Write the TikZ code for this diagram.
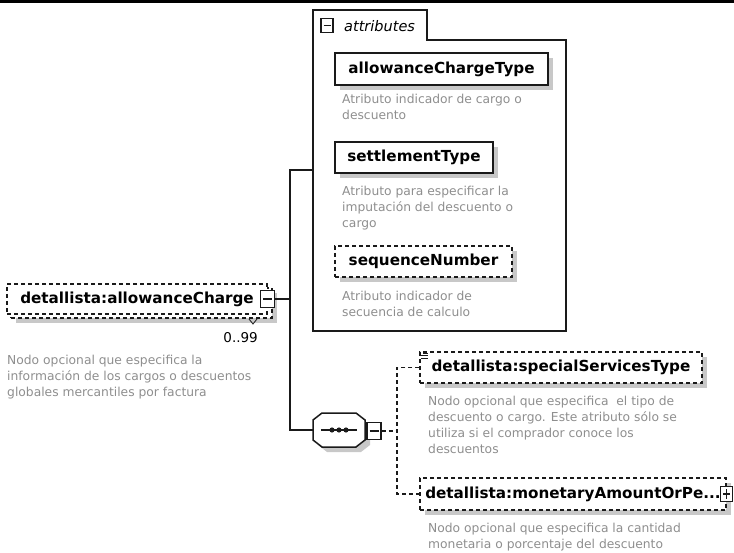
\documentclass[tikz,border=0pt]{standalone}
\usepackage{fontspec}
\setmainfont{DejaVu Sans}
\usepackage{tikz}
\usetikzlibrary{
  positioning, shadows, calc
}
\definecolor{lineK}{HTML}{1A1A1A}
\definecolor{shadeG}{HTML}{C8C8C8}
\definecolor{noteG}{HTML}{8E8E8E}
\newcommand\namefont{\fontsize{15.2}{18}\selectfont\bfseries}
\newcommand\notefont{\fontsize{12.3}{16}\selectfont}
\newcommand\grpfont{\fontsize{14.5}{16}\selectfont\itshape}
\tikzset{
  elembase/.style={draw=lineK, line width=1.5pt, fill=white, inner sep=0pt, font=\namefont},
  shade/.style={drop shadow={shadow xshift=5pt, shadow yshift=-5pt, fill=shadeG, opacity=1}},
  elembox/.style={elembase, shade},
  optbox/.style={elembase, shade, dash pattern=on 4pt off 3pt},
  optplain/.style={elembase, dash pattern=on 4pt off 3pt},
  notetext/.style={font=\notefont, text=noteG, align=left, anchor=north west, inner sep=0pt},
  togglebox/.style={draw=lineK, line width=1.2pt, fill=white, minimum width=14pt, minimum height=17pt, inner sep=0pt},
  minus/.style={path picture={\draw[lineK, line width=1.2pt] ($(path picture bounding box.west)+(2.5pt,0)$) -- ($(path picture bounding box.east)+(-2.5pt,0)$);}},
  plus/.style={path picture={\draw[lineK, line width=1.2pt] ($(path picture bounding box.west)+(2.5pt,0)$) -- ($(path picture bounding box.east)+(-2.5pt,0)$) ($(path picture bounding box.north)+(0,-2.5pt)$) -- ($(path picture bounding box.south)+(0,2.5pt)$);}},
  wire/.style={draw=lineK, line width=1.4pt},
  optwire/.style={wire, dash pattern=on 4pt off 3pt}
}
\begin{document}
\begin{tikzpicture}[x=1pt,y=-1pt]
\useasboundingbox (0,0) rectangle (734,553);
\fill[black] (0,0) rectangle (734,3);
\draw[lineK, line width=1.3pt] (313,10) -- (427,10) -- (427,40) -- (566,40) -- (566,331) -- (313,331) -- cycle;
\node[togglebox, minus, minimum width=12pt, minimum height=14pt] (attrToggle) at (327,25.5) {};
\node[font=\grpfont, anchor=west, inner sep=0pt] (attrLabel) at (344,26) {attributes};
\coordinate (attrIn) at (313,170);
\node[elembox, minimum width=213pt, minimum height=32pt] (allowType) at (441.5,69) {allowanceChargeType};
\node[notetext] (allowNote) at (342,94) {Atributo indicador de cargo o\\descuento};
\node[elembox, minimum width=158pt, minimum height=31pt] (settleType) at (414,157.5) {settlementType};
\node[notetext] (settleNote) at (342,186) {Atributo para especificar la\\imputación del descuento o\\cargo};
\node[optbox, minimum width=177pt, minimum height=31pt] (seqNum) at (423.5,261.5) {sequenceNumber};
\node[notetext] (seqNote) at (342,291) {Atributo indicador de\\secuencia de calculo};
\node[optbox, minimum width=261pt, minimum height=30pt] (acBack) at (141.5,303) {};
\node[optplain, minimum width=260pt, minimum height=30pt] (acFront) at (137,299) {detallista:allowanceCharge};
\node[togglebox, minus] (acToggle) at (acFront.east) {};
\draw[lineK, line width=0.8pt] (249,319) -- (253,324) -- (257,319);
\node[font=\fontsize{13.5}{16}\selectfont, anchor=east, inner sep=0pt] (acCard) at (258,338) {0..99};
\node[notetext] (acNote) at (7,355) {Nodo opcional que especifica la\\información de los cargos o descuentos\\globales mercantiles por factura};
\node[minimum width=52pt, minimum height=33pt, inner sep=0pt] (seqComp) at (339,430) {};
\draw[lineK, line width=1.5pt, fill=white, shade] (322,413) -- (356,413) -- (365,420) -- (365,440) -- (356,447) -- (322,447) -- (313,440) -- (313,420) -- cycle;
\coordinate (acFork) at (290,299);
\draw[wire] (acToggle) -- (acFork);
\draw[wire] (attrIn) -- (attrIn -| acFork) -- (seqComp.west -| acFork) -- (seqComp.west);
\draw[lineK, line width=1.4pt] ([xshift=8pt]seqComp.west) -- ([xshift=-8pt]seqComp.east);
\foreach \dx in {-7,0,7}
  \fill[lineK] (seqComp.center) ++(\dx,0) circle (2.6pt);
\node[togglebox, minus] (seqToggle) at (374,431) {};
\coordinate (seqFork) at (397,431);
\node[optbox, minimum width=282pt, minimum height=31pt] (specType) at (561,367.5) {detallista:specialServicesType};
\draw[lineK, line width=0.8pt] (423,353) -- (428,353) (421,355.5) -- (428,355.5) (421,358) -- (428,358);
\node[notetext] (specNote) at (428,396) {Nodo opcional que especifica\ \ el tipo de\\descuento o cargo. Este atributo sólo se\\utiliza si el comprador conoce los\\descuentos};
\node[optbox, minimum width=306pt, minimum height=32pt] (monType) at (573,494) {detallista:monetaryAmountOrPe...};
\node[togglebox, plus, minimum width=12pt, minimum height=15pt] (monToggle) at (monType.east) {};
\node[notetext] (monNote) at (428,523) {Nodo opcional que especifica la cantidad\\monetaria o porcentaje del descuento};
\draw[optwire] (seqToggle) -- (seqFork);
\draw[optwire] (specType.west) -- (specType.west -| seqFork) -- (monType.west -| seqFork) -- (monType.west);
\end{tikzpicture}
\end{document}
